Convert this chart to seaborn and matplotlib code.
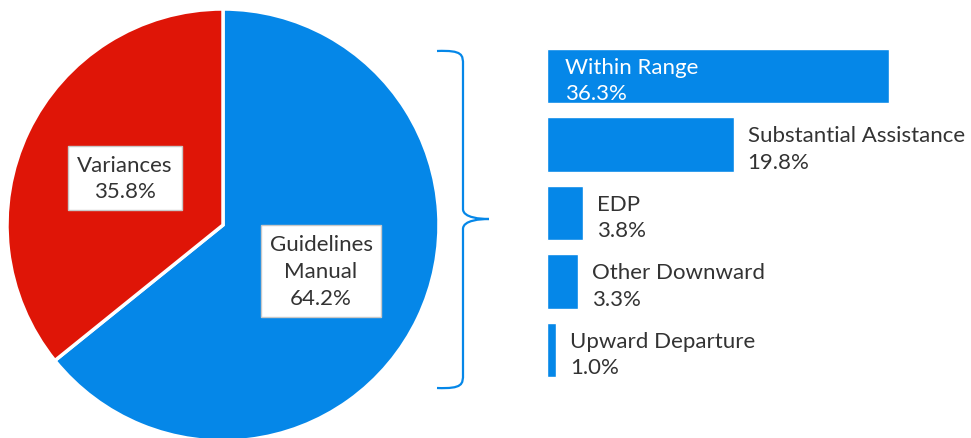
import matplotlib
matplotlib.use("Agg")
import matplotlib.pyplot as plt
import seaborn as sns
import pandas as pd
from matplotlib.path import Path
from matplotlib.patches import PathPatch

# ---- data ----
pie_labels = ["Guidelines\nManual", "Variances"]
pie_values = [64.2, 35.8]

bar_categories = ["Within Range", "Substantial Assistance", "EDP", "Other Downward", "Upward Departure"]
bar_values = [36.3, 19.8, 3.8, 3.3, 1.0]

BLUE = "#0587E8"
RED = "#DF1507"
TXT = "#333333"
FS = 16
LS = 1.42

sns.set_theme(style="white")
plt.rcParams["font.family"] = ["Lato", "DejaVu Sans"]

W, H = 971, 439
fig = plt.figure(figsize=(W / 100, H / 100), dpi=100)

def px(x, y):
    return x / W, 1 - y / H

# ---- pie ----
cx, cy, r = 223, 226, 216
axp = fig.add_axes([(cx - r) / W, (H - cy - r) / H, 2 * r / W, 2 * r / H])
axp.pie(pie_values, colors=[BLUE, RED], startangle=90, counterclock=False,
        wedgeprops=dict(edgecolor="white", linewidth=2.5), radius=1)
axp.set_xlim(-1, 1)
axp.set_ylim(-1, 1)
axp.set_aspect("auto")
axp.axis("off")

box = dict(boxstyle="square,pad=0.4", facecolor="white", edgecolor="#c8c8c8", linewidth=1)
fig.text(*px(125, 179), f"{pie_labels[1]}\n{pie_values[1]}%", ha="center", va="center",
         fontsize=FS, color=TXT, linespacing=LS, bbox=box)
fig.text(*px(321, 272), f"{pie_labels[0]}\n{pie_values[0]}%", ha="center", va="center",
         fontsize=FS, color=TXT, linespacing=LS, bbox=box)

# ---- bracket ----
bx0, bx1, btip = 437, 463, 489
ytop, ymid, ybot = 52, 220, 389
verts_px = [
    (bx0, ytop), (bx1, ytop - 1), (bx1, ytop + 4), (bx1, ytop + 14),
    (bx1, ymid - 10),
    (bx1, ymid - 1), (btip - 8, ymid), (btip, ymid),
    (btip - 8, ymid), (bx1, ymid + 1), (bx1, ymid + 10),
    (bx1, ybot - 14),
    (bx1, ybot - 4), (bx1, ybot + 1), (bx0, ybot),
]
codes = [Path.MOVETO, Path.CURVE4, Path.CURVE4, Path.CURVE4,
         Path.LINETO,
         Path.CURVE4, Path.CURVE4, Path.CURVE4,
         Path.CURVE4, Path.CURVE4, Path.CURVE4,
         Path.LINETO,
         Path.CURVE4, Path.CURVE4, Path.CURVE4]
verts = [px(x, y) for x, y in verts_px]
fig.patches.append(PathPatch(Path(verts, codes), transform=fig.transFigure,
                             facecolor="none", edgecolor=BLUE, linewidth=1.6))

# ---- bars ----
scale = 342 / 36.3  # px per percentage point
xmax = 40
step = 68.5
top = 77 - step / 2
axb = fig.add_axes([547 / W, (H - (top + 5 * step)) / H, xmax * scale / W, 5 * step / H])
df = pd.DataFrame({"cat": bar_categories, "val": bar_values})
sns.barplot(data=df, x="val", y="cat", color=BLUE, saturation=1, width=0.8,
            orient="h", ax=axb)
axb.set_xlim(0, xmax)
axb.set_ylim(4.5, -0.5)
axb.axis("off")

for i, (cat, val) in enumerate(zip(bar_categories, bar_values)):
    label = f"{cat}\n{val}%"
    if i == 0:
        axb.annotate(label, (0, i), xytext=(18, -4), textcoords="offset pixels",
                     ha="left", va="center", fontsize=FS, color="white", linespacing=LS,
                     annotation_clip=False)
    else:
        axb.annotate(label, (val, i), xytext=(14, -4), textcoords="offset pixels",
                     ha="left", va="center", fontsize=FS, color=TXT, linespacing=LS,
                     annotation_clip=False)

fig.savefig("out.png", dpi=100)
